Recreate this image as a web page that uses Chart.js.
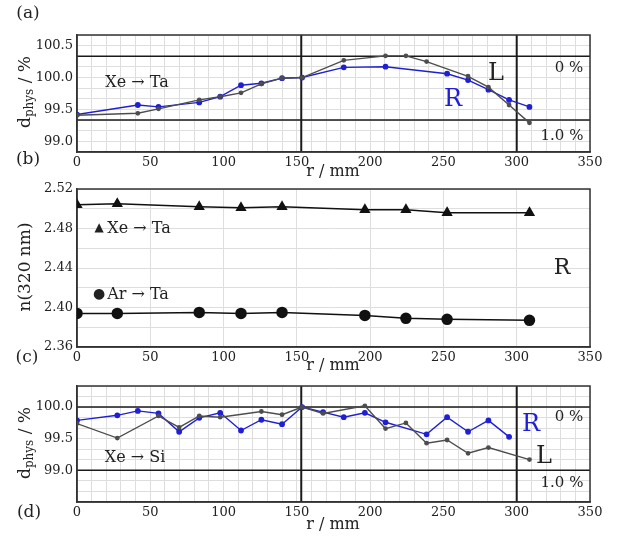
<!DOCTYPE html>
<html><head><meta charset="utf-8">
<script src="https://cdn.jsdelivr.net/npm/chart.js@4"></script>
<style>
body{margin:0;background:#fff;}
#wrap{position:relative;width:617px;height:540px;background:#fff;}
canvas{position:absolute;left:0;top:0;}
</style></head><body>
<div id="wrap">
<canvas id="ca" width="617" height="540"></canvas>
<canvas id="cb" width="617" height="540"></canvas>
<canvas id="cd" width="617" height="540"></canvas>
</div>
<script>
// ---------- DATA ----------
// Panel (a): Xe -> Ta, d_phys / %
const rA_R = [0, 41.5, 55.6, 83.4, 97.7, 111.9, 125.8, 139.9, 153.6, 182, 210.5, 252.5, 266.8, 280.7, 294.8, 308.7];
const dA_R = [99.42, 99.57, 99.54, 99.61, 99.70, 99.88, 99.91, 99.99, 100.0, 100.16, 100.17, 100.06, 99.96, 99.81, 99.65, 99.54];
const rA_L = [0, 41.5, 55.6, 83.4, 97.7, 111.9, 125.8, 139.9, 153.6, 182, 210.5, 224.4, 238.5, 266.8, 280.7, 294.8, 308.7];
const dA_L = [99.41, 99.44, 99.51, 99.65, 99.70, 99.76, 99.90, 99.99, 100.0, 100.27, 100.34, 100.34, 100.25, 100.02, 99.85, 99.57, 99.29];

// Panel (b/c): n(320 nm)
const rB = [0, 27.5, 83.4, 111.9, 139.9, 196.4, 224.4, 252.5, 308.7];
const nXeTa = [2.504, 2.505, 2.502, 2.501, 2.502, 2.499, 2.499, 2.496, 2.496];
const nArTa = [2.394, 2.394, 2.395, 2.394, 2.395, 2.392, 2.389, 2.388, 2.387];

// Panel (d): Xe -> Si, d_phys / %
const rD_R = [0, 27.5, 41.5, 55.6, 69.7, 83.4, 97.7, 111.9, 125.8, 139.9, 153.6, 167.9, 182, 196.4, 210.5, 238.5, 252.5, 266.8, 280.7, 294.8];
const dD_R = [99.79, 99.87, 99.94, 99.90, 99.61, 99.83, 99.91, 99.63, 99.80, 99.73, 100.0, 99.92, 99.84, 99.91, 99.76, 99.57, 99.84, 99.61, 99.79, 99.53];
const rD_L = [0, 27.5, 55.6, 69.7, 83.4, 97.7, 125.8, 139.9, 153.6, 167.9, 196.4, 210.5, 224.4, 238.5, 252.5, 266.8, 280.7, 308.7];
const dD_L = [99.74, 99.51, 99.86, 99.68, 99.86, 99.84, 99.93, 99.88, 100.0, 99.90, 100.02, 99.66, 99.75, 99.43, 99.48, 99.27, 99.36, 99.17];

// Reference lines
const vLines = [153, 300];
const hLinesA = [100 + 1 / 3, 99 + 1 / 3];
const hLinesD = [100.0, 99.0];

// Tick labels
const xLabels = ['0', '50', '100', '150', '200', '250', '300', '350'];
const yLabelsA = ['99.0', '99.5', '100.0', '100.5'];
const yLabelsB = ['2.36', '2.40', '2.44', '2.48', '2.52'];
const yLabelsD = ['99.0', '99.5', '100.0'];

// ---------- HELPERS ----------
const FONT = "'DejaVu Serif', 'Liberation Serif', serif";
const BLUE = '#1f1fd6';
const GRAY = '#4d4d4d';
const pts = (xs, ys) => xs.map((x, i) => ({x: x, y: ys[i]}));
const fineX = []; for (let v = 0; v <= 350; v += 10) fineX.push(v);
function sixths(lo, n) { const a = []; for (let k = 0; k <= n; k++) a.push(lo + k / 6); return a; }

function labelFor(list, v, dec) {
  const s = v.toFixed(dec);
  return list.includes(s) && Math.abs(parseFloat(s) - v) < 1e-3 ? s : '';
}

function drawYTitle(ctx, cx, cy, parts) {
  ctx.save();
  ctx.translate(cx, cy);
  ctx.rotate(-Math.PI / 2);
  let w = 0;
  parts.forEach(p => { ctx.font = p.size + 'px ' + FONT; w += ctx.measureText(p.t).width; });
  let x = -w / 2;
  ctx.fillStyle = '#222';
  ctx.textBaseline = 'middle';
  ctx.textAlign = 'left';
  parts.forEach(p => { ctx.font = p.size + 'px ' + FONT; ctx.fillText(p.t, x, p.dy || 0); x += ctx.measureText(p.t).width; });
  ctx.restore();
}

function framePlugin(hLines, texts, yTitle, yTitleY) {
  return {
    id: 'frame',
    beforeDatasetsDraw(chart) {
      const {ctx, chartArea: a, scales} = chart;
      ctx.save();
      ctx.strokeStyle = '#1a1a1a';
      ctx.lineWidth = 1.5;
      hLines.forEach(v => {
        const y = scales.y.getPixelForValue(v);
        ctx.beginPath(); ctx.moveTo(a.left, y); ctx.lineTo(a.right, y); ctx.stroke();
      });
      if (hLines.length) {
        ctx.lineWidth = 2;
        vLines.forEach(v => {
          const x = scales.x.getPixelForValue(v);
          ctx.beginPath(); ctx.moveTo(x, a.top); ctx.lineTo(x, a.bottom); ctx.stroke();
        });
      }
      ctx.lineWidth = 1.5;
      ctx.strokeStyle = '#333';
      ctx.strokeRect(a.left, a.top, a.right - a.left, a.bottom - a.top);
      ctx.restore();
    },
    afterDraw(chart) {
      const {ctx, scales} = chart;
      ctx.save();
      texts.forEach(t => {
        ctx.font = t.size + 'px ' + FONT;
        ctx.fillStyle = t.color || '#222';
        ctx.textAlign = t.align || 'center';
        ctx.textBaseline = 'middle';
        ctx.fillText(t.t, t.x, t.y);
      });
      ctx.restore();
      drawYTitle(ctx, 26, yTitleY, yTitle);
    }
  };
}

function makeChart(id, datasets, opts) {
  return new Chart(document.getElementById(id), {
    type: 'scatter',
    data: {datasets: datasets},
    options: {
      responsive: false,
      animation: false,
      devicePixelRatio: 1,
      layout: {padding: {top: opts.top, bottom: opts.bottom, left: 0, right: 27}},
      plugins: {legend: {display: false}, tooltip: {enabled: false}},
      scales: {
        x: {
          type: 'linear', min: 0, max: 350,
          afterFit(s) { s.height = 20; },
          afterBuildTicks(s) { s.ticks = (opts.xFine ? fineX : [0, 50, 100, 150, 200, 250, 300, 350]).map(v => ({value: v})); },
          grid: {color: '#dedede', lineWidth: 1, drawTicks: false},
          border: {display: true, color: '#333', width: 1.5},
          ticks: {
            autoSkip: false, maxRotation: 0, padding: 3, color: '#222',
            font: {family: FONT, size: 13},
            callback: v => labelFor(xLabels, v, 0)
          }
        },
        y: {
          type: 'linear', min: opts.yMin, max: opts.yMax,
          afterFit(s) { s.width = 77; },
          afterBuildTicks(s) { s.ticks = opts.yTicks.map(v => ({value: v})); },
          grid: {color: '#dedede', lineWidth: 1, drawTicks: false},
          border: {display: true, color: '#333', width: 1.5},
          ticks: {
            autoSkip: false, padding: 4, color: '#222',
            font: {family: FONT, size: 13},
            callback: v => labelFor(opts.yLabels, v, opts.dec)
          }
        }
      }
    },
    plugins: [framePlugin(opts.hLines, opts.texts, opts.yTitle, opts.yTitleY)]
  });
}

const lineDs = (label, xs, ys, color, r) => ({
  label: label, data: pts(xs, ys), showLine: true,
  borderColor: color, backgroundColor: color, borderWidth: 1.4,
  pointRadius: r, pointHoverRadius: r, pointStyle: 'circle'
});

const dTitle = [{t: 'd', size: 17}, {t: 'phys', size: 12, dy: 4}, {t: ' / %', size: 17}];

// ---------- PANEL (a) ----------
makeChart('ca', [
  lineDs('L', rA_L, dA_L, GRAY, 1.7),
  lineDs('R', rA_R, dA_R, BLUE, 2.2)
], {
  top: 35, bottom: 368, yMin: 98 + 5 / 6, yMax: 100 + 2 / 3, yTicks: sixths(98 + 5 / 6, 11),
  yLabels: yLabelsA, dec: 1, xFine: true, hLines: hLinesA,
  yTitle: dTitle, yTitleY: 92,
  texts: [
    {t: '(a)', x: 28, y: 14, size: 17},
    {t: '(b)', x: 28, y: 160, size: 17},
    {t: 'Xe \u2192 Ta', x: 137, y: 83, size: 16},
    {t: 'L', x: 496, y: 74, size: 24},
    {t: 'R', x: 453, y: 100, size: 24, color: BLUE},
    {t: '0 %', x: 569, y: 68, size: 15},
    {t: '1.0 %', x: 562, y: 136, size: 15},
    {t: 'r / mm', x: 333, y: 172, size: 16}
  ]
});

// ---------- PANEL (b/c) ----------
const yTicksB = []; for (let k = 0; k <= 8; k++) yTicksB.push(2.36 + k * 0.02);
makeChart('cb', [
  {label: 'Xe \u2192 Ta', data: pts(rB, nXeTa), showLine: true, borderColor: '#111', backgroundColor: '#111',
   borderWidth: 1.5, pointStyle: 'triangle', pointRadius: 5, pointHoverRadius: 5},
  {label: 'Ar \u2192 Ta', data: pts(rB, nArTa), showLine: true, borderColor: '#111', backgroundColor: '#111',
   borderWidth: 1.5, pointStyle: 'circle', pointRadius: 5, pointHoverRadius: 5}
], {
  top: 189, bottom: 173, yMin: 2.36, yMax: 2.52, yTicks: yTicksB,
  yLabels: yLabelsB, dec: 2, xFine: false, hLines: [],
  yTitle: [{t: 'n(320 nm)', size: 17}], yTitleY: 267,
  texts: [
    {t: '\u25B2', x: 99, y: 228, size: 12},
    {t: 'Xe \u2192 Ta', x: 139, y: 229, size: 16},
    {t: '\u25CF', x: 99, y: 294, size: 14},
    {t: 'Ar \u2192 Ta', x: 138, y: 295, size: 16},
    {t: 'R', x: 562, y: 268, size: 22},
    {t: '(c)', x: 27, y: 358, size: 17},
    {t: 'r / mm', x: 333, y: 366, size: 16}
  ]
});

// ---------- PANEL (d) ----------
makeChart('cd', [
  lineDs('L', rD_L, dD_L, GRAY, 1.7),
  lineDs('R', rD_R, dD_R, BLUE, 2.2)
], {
  top: 386, bottom: 18, yMin: 98.5, yMax: 100 + 1 / 3, yTicks: sixths(98.5, 11),
  yLabels: yLabelsD, dec: 1, xFine: true, hLines: hLinesD,
  yTitle: dTitle, yTitleY: 443,
  texts: [
    {t: 'Xe \u2192 Si', x: 135, y: 458, size: 16},
    {t: 'R', x: 531, y: 425, size: 24, color: BLUE},
    {t: 'L', x: 544, y: 457, size: 24},
    {t: '0 %', x: 569, y: 417, size: 15},
    {t: '1.0 %', x: 562, y: 483, size: 15},
    {t: '(d)', x: 29, y: 513, size: 17},
    {t: 'r / mm', x: 333, y: 525, size: 16}
  ]
});
</script>
</body></html>
